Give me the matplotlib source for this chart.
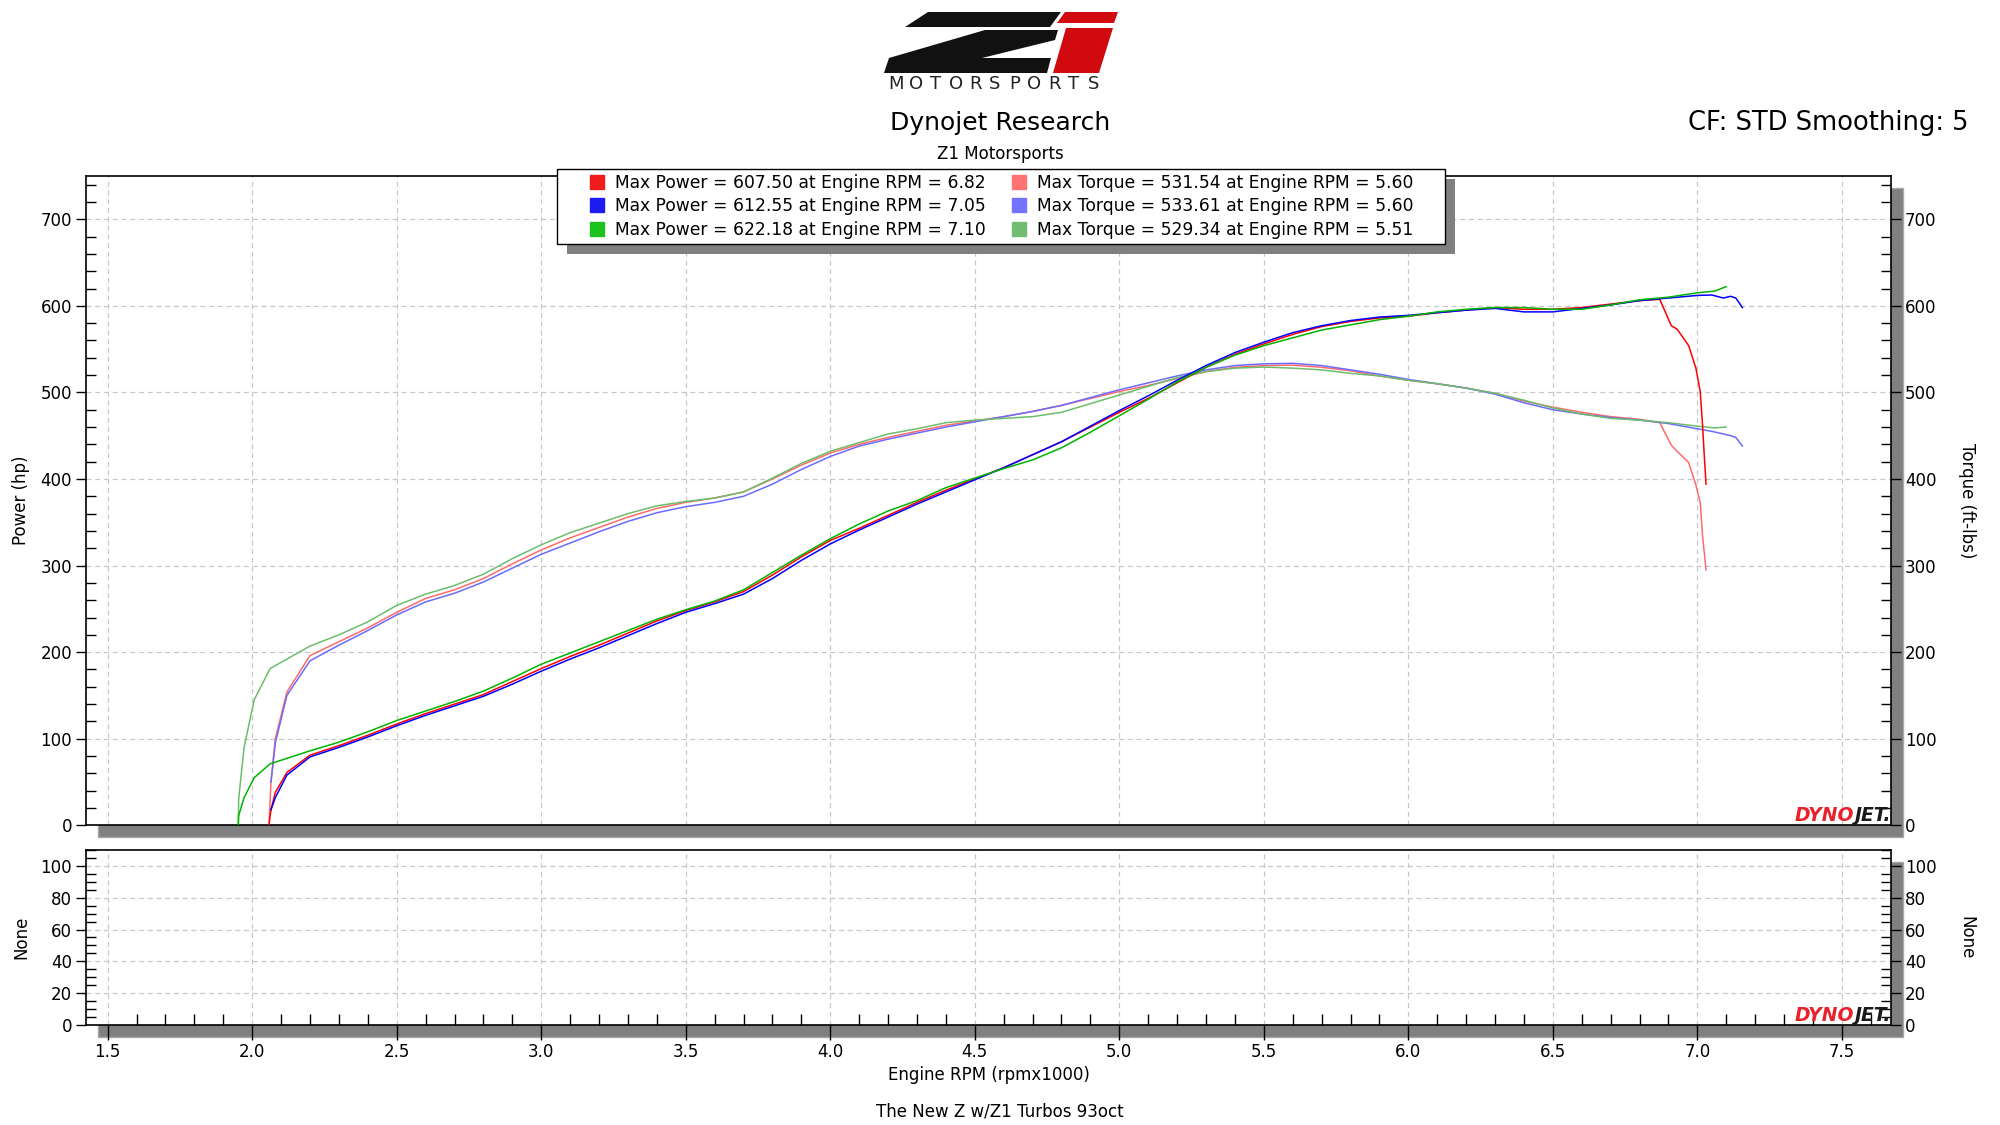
import matplotlib
matplotlib.use('Agg')
import matplotlib.pyplot as plt
from matplotlib.patches import Polygon, Rectangle
from matplotlib.lines import Line2D
from matplotlib.offsetbox import TextArea, HPacker, AnchoredOffsetbox
from matplotlib.ticker import MultipleLocator, FormatStrFormatter

plt.rcParams['font.family'] = ['DejaVu Sans']

# run 1 (red)
red_rpm = [2.058, 2.065, 2.08, 2.12, 2.2,
           2.3, 2.4, 2.5, 2.6, 2.7, 2.8, 2.9, 3.0, 3.1, 3.2,
           3.3, 3.4, 3.5, 3.6, 3.7, 3.8, 3.9, 4.0, 4.1, 4.2,
           4.3, 4.4, 4.5, 4.6, 4.7, 4.8, 4.9, 5.0, 5.1, 5.2,
           5.3, 5.4, 5.5, 5.6, 5.7, 5.8, 5.9, 6.0, 6.1, 6.2,
           6.3, 6.4, 6.5, 6.6, 6.7, 6.8,
           6.87, 6.91, 6.93, 6.97, 6.995, 7.01, 7.018, 7.024, 7.03]
red_hp = [0, 18, 38, 61, 81,
          92, 104, 117, 129, 140, 151, 166, 181, 195, 208,
          222, 236, 248, 258, 270, 289, 310, 329, 343, 358,
          373, 387, 400, 413, 428, 443, 460, 477, 493, 511,
          529, 544, 556, 567, 576, 582, 586, 588, 592, 595,
          598, 596, 596, 598, 602, 606,
          607.5, 577, 573, 554, 528, 501, 462, 427, 394]
red_tq = [0, 50, 100, 154, 196,
          212, 228, 246, 262, 272, 285, 302, 318, 332, 344,
          356, 366, 373, 378, 385, 400, 416, 430, 440, 448,
          455, 462, 467, 472, 478, 485, 493, 501, 508, 516,
          524, 529, 531, 531.5, 529, 525, 519, 514, 510, 505,
          499, 490, 483, 477, 472, 469,
          465, 439, 432, 419, 393, 373, 334, 315, 295]

# run 2 (blue)
blue_rpm = [2.065, 2.08, 2.12, 2.2,
            2.3, 2.4, 2.5, 2.6, 2.7, 2.8, 2.9, 3.0, 3.1, 3.2,
            3.3, 3.4, 3.5, 3.6, 3.7, 3.8, 3.9, 4.0, 4.1, 4.2,
            4.3, 4.4, 4.5, 4.6, 4.7, 4.8, 4.9, 5.0, 5.1, 5.2,
            5.3, 5.4, 5.5, 5.6, 5.7, 5.8, 5.9, 6.0, 6.1, 6.2,
            6.3, 6.4, 6.5, 6.6, 6.7, 6.8, 6.9, 7.0,
            7.05, 7.09, 7.115, 7.133, 7.156]
blue_hp = [18, 32, 58, 79,
           90, 102, 115, 127, 138, 149, 163, 178, 192, 205,
           219, 233, 246, 256, 267, 285, 306, 325, 341, 356,
           371, 385, 399, 413, 428, 443, 461, 479, 496, 514,
           531, 546, 558, 569, 577, 583, 587, 589, 592, 595,
           597, 593, 593, 597, 601, 606, 609, 612,
           612.5, 609, 611, 609, 598]
blue_tq = [50, 95, 150, 190,
           208, 225, 243, 258, 268, 281, 297, 313, 326, 339,
           351, 361, 368, 373, 380, 394, 411, 426, 438, 446,
           453, 460, 466, 472, 478, 485, 494, 503, 511, 519,
           526, 531, 533, 533.6, 531, 526, 521, 515, 510, 505,
           498, 488, 480, 475, 471, 468, 464, 458,
           455, 452, 450, 448, 438]

# run 3 (green)
green_rpm = [1.952, 1.953, 1.972, 2.007, 2.062, 2.2,
             2.3, 2.4, 2.5, 2.6, 2.7, 2.8, 2.9, 3.0, 3.1, 3.2,
             3.3, 3.4, 3.5, 3.6, 3.7, 3.8, 3.9, 4.0, 4.1, 4.2,
             4.3, 4.4, 4.5, 4.6, 4.7, 4.8, 4.9, 5.0, 5.1, 5.2,
             5.3, 5.4, 5.5, 5.6, 5.7, 5.8, 5.9, 6.0, 6.1, 6.2,
             6.3, 6.4, 6.5, 6.6, 6.7, 6.8, 6.9, 7.0,
             7.06, 7.1]
green_hp = [0, 11, 32, 55, 71, 86,
            96, 108, 121, 132, 143, 155, 170, 186, 199, 212,
            225, 238, 249, 259, 272, 292, 312, 331, 348, 363,
            375, 390, 401, 412, 422, 436, 454, 473, 492, 512,
            529, 543, 554, 563, 572, 578, 584, 588, 593, 596,
            598, 598, 596, 596, 601, 607, 610, 615,
            617, 622.18]
green_tq = [0, 30, 90, 145, 181, 207,
            220, 235, 254, 267, 277, 290, 308, 324, 338, 349,
            360, 369, 374, 378, 385, 401, 418, 432, 442, 452,
            458, 465, 468, 470, 472, 477, 487, 497, 507, 517,
            524, 528, 529.3, 528, 526, 522, 519, 514, 510, 505,
            499, 491, 482, 475, 470, 468, 465, 461,
            459, 460]

legend_power = ['Max Power = 607.50 at Engine RPM = 6.82',
                'Max Power = 612.55 at Engine RPM = 7.05',
                'Max Power = 622.18 at Engine RPM = 7.10']
legend_torque = ['Max Torque = 531.54 at Engine RPM = 5.60',
                 'Max Torque = 533.61 at Engine RPM = 5.60',
                 'Max Torque = 529.34 at Engine RPM = 5.51']

hp_colors = ['#ff0000', '#0000ff', '#00b400']
tq_colors = ['#ff6b6b', '#6b6bff', '#6cbd6c']
legend_hp_colors = ['#ee1c1c', '#1c1cf0', '#1ec21e']
legend_tq_colors = ['#ff7373', '#7373ff', '#73bd73']

W, H = 2000, 1125
fig = plt.figure(figsize=(20, 11.25), dpi=100)
fig.patch.set_facecolor('white')

def px(x, y):
    return (x / W, 1 - y / H)

# Z1 logo
black_top = [(928, 12), (1061, 12), (1050, 27), (905, 27)]
black_low = [(985, 30), (1058, 30), (1055, 40), (982, 58), (1051, 58),
             (1047, 73), (884, 73), (889, 58)]
red_top = [(1065, 12), (1118, 12), (1114, 23), (1057, 23)]
red_low = [(1066, 28), (1113, 28), (1099, 73), (1053, 73)]
for pts, col in [(black_top, '#111111'), (black_low, '#111111'),
                 (red_top, '#d10a10'), (red_low, '#d10a10')]:
    fig.add_artist(Polygon([px(*p) for p in pts], closed=True, facecolor=col,
                           edgecolor='none', transform=fig.transFigure))
for i, ch in enumerate('MOTORSPORTS'):
    x, y = px(896.5 + i * 19.7, 84)
    fig.text(x, y, ch, ha='center', va='center', fontsize=13, color='#222222')

fig.text(0.5, 0.891, 'Dynojet Research', ha='center', va='center', fontsize=18)
fig.text(0.5, 0.863, 'Z1 Motorsports', ha='center', va='center', fontsize=12)
fig.text(0.984, 0.891, 'CF: STD Smoothing: 5', ha='right', va='center', fontsize=18.5)

grid_kw = dict(color='#c8c8c8', linestyle=(0, (4, 3)), linewidth=0.9)
left, width = 0.043, 0.9025
ax = fig.add_axes([left, 0.2664, width, 0.5772])
ax2 = fig.add_axes([left, 0.0893, width, 0.1548])

# drop shadows behind both plot areas
sx, sy = 12 / W, 12 / H
for a in (ax, ax2):
    p = a.get_position()
    fig.add_artist(Rectangle((p.x0 + sx, p.y0 - sy), p.width, p.height,
                             facecolor='#808080', edgecolor='#a8a8a8', lw=1,
                             transform=fig.transFigure, zorder=-1))

for rpm, hp, tq, ch, ct in [(red_rpm, red_hp, red_tq, hp_colors[0], tq_colors[0]),
                            (blue_rpm, blue_hp, blue_tq, hp_colors[1], tq_colors[1]),
                            (green_rpm, green_hp, green_tq, hp_colors[2], tq_colors[2])]:
    ax.plot(rpm, tq, color=ct, lw=1.1, zorder=2)
    ax.plot(rpm, hp, color=ch, lw=1.1, zorder=3)

for a in (ax, ax2):
    for s in a.spines.values():
        s.set_color('black')
        s.set_linewidth(1.2)
    a.set_xlim(1.425, 7.67)
    a.xaxis.set_major_locator(MultipleLocator(0.5))
    a.grid(True, which='major', **grid_kw)
    a.set_axisbelow(True)

ax.set_ylim(0, 750)
ax.yaxis.set_major_locator(MultipleLocator(100))
ax.yaxis.set_minor_locator(MultipleLocator(20))
ax.tick_params(axis='x', which='both', length=0, labelbottom=False)

ax2.set_ylim(0, 110)
ax2.yaxis.set_major_locator(MultipleLocator(20))
ax2.yaxis.set_minor_locator(MultipleLocator(5))
ax2.xaxis.set_minor_locator(MultipleLocator(0.1))
ax2.xaxis.set_major_formatter(FormatStrFormatter('%.1f'))
ax2.tick_params(axis='x', which='major', direction='out', length=11, width=1,
                labelsize=12, pad=2)
ax2.tick_params(axis='x', which='minor', direction='in', length=8, width=1)

for a in (ax, ax2):
    a.tick_params(axis='y', which='major', direction='out', length=7, width=1,
                  left=True, right=True, labelleft=True, labelright=True,
                  labelsize=12, pad=3)
    a.tick_params(axis='y', which='minor', direction='in', length=7, width=1,
                  left=True, right=True)
    box = AnchoredOffsetbox(
        loc='lower right',
        child=HPacker(children=[
            TextArea('DYNO', textprops=dict(color='#e8212b', fontsize=13.5,
                                            fontweight='bold', fontstyle='italic')),
            TextArea('JET.', textprops=dict(color='#1a1a1a', fontsize=13.5,
                                            fontweight='bold', fontstyle='italic'))],
            sep=0, pad=0),
        pad=0, borderpad=0.0, frameon=False)
    a.add_artist(box)

# legend: frameless, with a hand-made box and shadow around it
handles = [Line2D([], [], marker='s', ls='none', color=c, markersize=9.5)
           for c in legend_hp_colors + legend_tq_colors]
leg = ax.legend(handles, legend_power + legend_torque, ncol=2, loc='upper center',
                bbox_to_anchor=(0.5005, 0.8455), bbox_transform=fig.transFigure,
                fontsize=12.3, frameon=False, borderpad=0, labelspacing=0.33,
                handletextpad=0.5, columnspacing=1.5, handlelength=1.0,
                borderaxespad=0)
leg.set_zorder(7)
fig.canvas.draw()
bb = leg.get_window_extent().transformed(fig.transFigure.inverted())
padx, pady = 32 / W, 5 / H
bx0, by0 = bb.x0 - padx, bb.y0 - pady
bw, bh = bb.width + 2 * padx, bb.height + 2 * pady
ax.add_patch(Rectangle((bx0 + 10 / W, by0 - 10 / H), bw, bh,
                       facecolor='#808080', edgecolor='none',
                       transform=fig.transFigure, clip_on=False, zorder=5))
ax.add_patch(Rectangle((bx0, by0), bw, bh, facecolor='white', edgecolor='black',
                       lw=1.0, transform=fig.transFigure, clip_on=False, zorder=6))

axc = left + width / 2
fig.text(0.0105, 0.555, 'Power (hp)', rotation=90, ha='center', va='center', fontsize=12)
fig.text(0.9834, 0.555, 'Torque (ft-lbs)', rotation=270, ha='center', va='center', fontsize=12)
fig.text(0.0105, 0.1667, 'None', rotation=90, ha='center', va='center', fontsize=12)
fig.text(0.9834, 0.1667, 'None', rotation=270, ha='center', va='center', fontsize=12)
fig.text(axc, 0.0444, 'Engine RPM (rpmx1000)', ha='center', va='center', fontsize=12)
fig.text(0.5, 0.0116, 'The New Z w/Z1 Turbos 93oct', ha='center', va='center', fontsize=12)

fig.savefig('out.png', dpi=100, facecolor='white')
